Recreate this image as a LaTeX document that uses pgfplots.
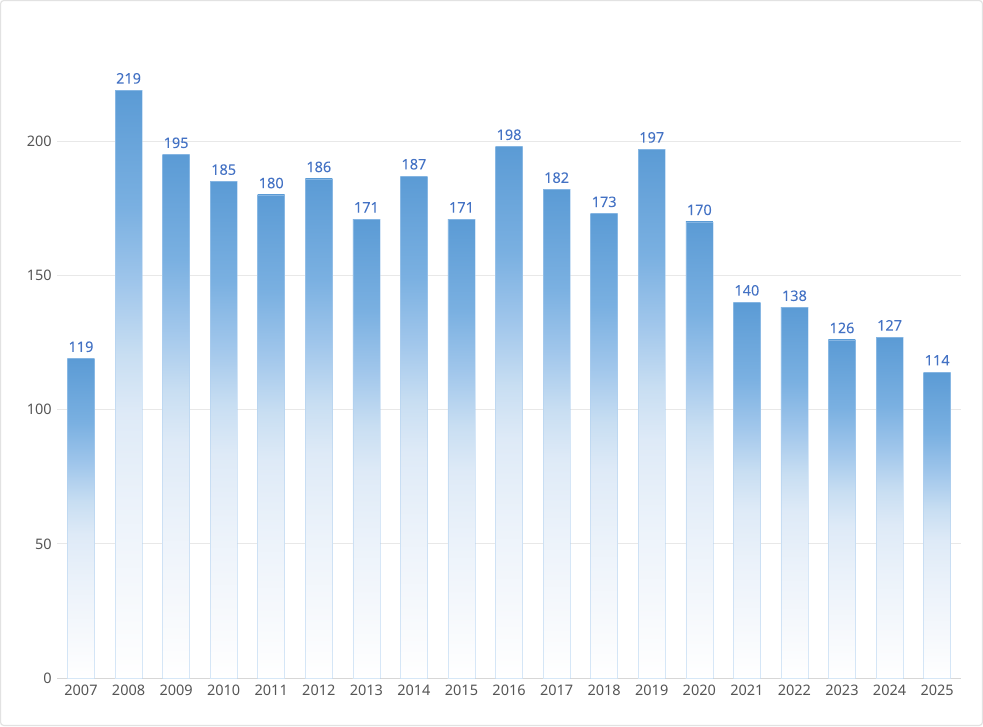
\documentclass[border=0pt]{standalone}
\usepackage{pgfplots}
\pgfplotsset{compat=1.18}
\usepackage{fontspec}
\setmainfont{Noto Sans}
\newfontfamily\labfont[FakeBold=0.4]{Noto Sans}
\definecolor{barblue}{RGB}{91,155,213}
\definecolor{labblue}{RGB}{68,114,196}
\definecolor{gridgray}{RGB}{232,232,232}
\definecolor{ticktext}{RGB}{85,85,85}
\definecolor{edgeblue}{RGB}{175,208,240}
\pgfdeclareverticalshading{barfade}{100bp}{%
  color(0bp)=(white);
  color(25bp)=(white);
  color(32.5bp)=(rgb,255:red,245;green,248;blue,252);
  color(40bp)=(rgb,255:red,235;green,242;blue,250);
  color(47.5bp)=(rgb,255:red,222;green,234;blue,247);
  color(52.5bp)=(rgb,255:red,200;green,222;blue,242);
  color(58.5bp)=(rgb,255:red,160;green,198;blue,235);
  color(65bp)=(rgb,255:red,122;green,176;blue,225);
  color(75bp)=(rgb,255:red,91;green,155;blue,213);
  color(100bp)=(rgb,255:red,91;green,155;blue,213)}
\pgfplotsset{onebar/.style={draw=edgeblue, draw opacity=0.5, line width=0.6pt, shading=barfade, bar shift=0pt}}
\begin{document}
\begin{tikzpicture}
\path[use as bounding box] (-57.2pt,-48pt) rectangle (925.8pt,678pt);
\draw[color={rgb,255:red,226;green,226;blue,226}, line width=1.2pt, rounded corners=3pt] (-56.6pt,-47.4pt) rectangle (925.2pt,677.4pt);
\begin{axis}[
  at={(0,0)}, anchor=south west,
  scale only axis, width=903.7pt, height=644pt,
  xmin=-0.5, xmax=18.5, ymin=0, ymax=240,
  ybar, bar width=27pt,
  axis line style={draw=none},
  tick style={draw=none},
  ytick={0,50,100,150,200},
  ymajorgrids, grid style={gridgray, line width=0.8pt},
  xtick={0,...,18},
  xticklabels={2007,2008,2009,2010,2011,2012,2013,2014,2015,2016,2017,2018,2019,2020,2021,2022,2023,2024,2025},
  ticklabel style={font=\fontsize{14.5}{16}\selectfont, text=ticktext},
  yticklabel style={xshift=-2pt},
  xticklabel style={yshift=1pt},
  /pgf/number format/assume math mode=true,
  nodes near coords,
  every node near coord/.append style={font=\labfont\fontsize{14.5}{16}\selectfont, text=labblue, yshift=3pt},
  clip=false,
]
\draw[color={rgb,255:red,215;green,215;blue,215}, line width=0.8pt] (axis cs:-0.5,0) -- (axis cs:18.5,0);
\addplot[onebar] coordinates {(0,119)};
\addplot[onebar] coordinates {(1,219)};
\addplot[onebar] coordinates {(2,195)};
\addplot[onebar] coordinates {(3,185)};
\addplot[onebar] coordinates {(4,180)};
\addplot[onebar] coordinates {(5,186)};
\addplot[onebar] coordinates {(6,171)};
\addplot[onebar] coordinates {(7,187)};
\addplot[onebar] coordinates {(8,171)};
\addplot[onebar] coordinates {(9,198)};
\addplot[onebar] coordinates {(10,182)};
\addplot[onebar] coordinates {(11,173)};
\addplot[onebar] coordinates {(12,197)};
\addplot[onebar] coordinates {(13,170)};
\addplot[onebar] coordinates {(14,140)};
\addplot[onebar] coordinates {(15,138)};
\addplot[onebar] coordinates {(16,126)};
\addplot[onebar] coordinates {(17,127)};
\addplot[onebar] coordinates {(18,114)};
\end{axis}
\end{tikzpicture}
\end{document}
